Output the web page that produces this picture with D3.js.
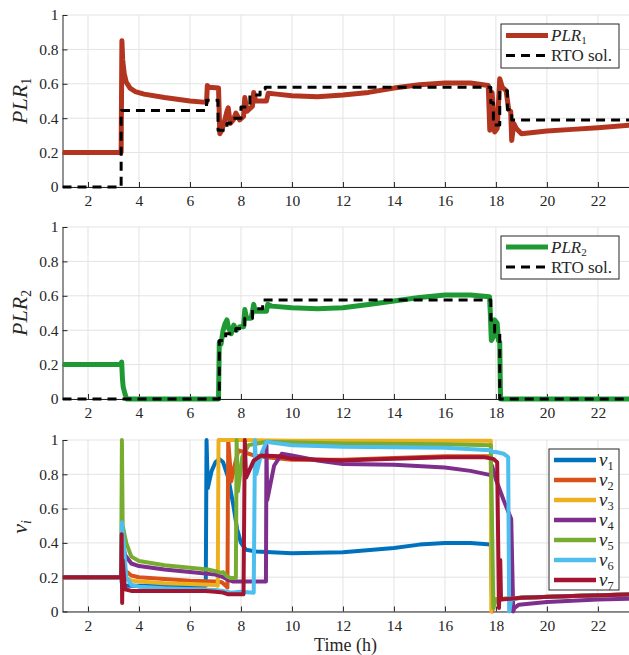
<!DOCTYPE html>
<html>
<head>
<meta charset="utf-8">
<script src="https://cdn.jsdelivr.net/npm/d3@7"></script>
<style>
  body { margin: 0; background: #fff; }
  svg text { font-family: "Liberation Serif", "DejaVu Serif", serif; fill: #262626; }
</style>
</head>
<body>
<div id="chart"></div>
<script>
const w = 629;
const h = 655;

// tick labels
const xTicks = [2, 4, 6, 8, 10, 12, 14, 16, 18, 20, 22];
const yTicks = [0, 0.2, 0.4, 0.6, 0.8, 1];

// panel 1: PLR1 and its RTO solution, [time (h), value]
const plr1 = [[1,0.2],[3.3,0.2],[3.33,0.85],[3.36,0.74],[3.42,0.66],[3.5,0.61],[3.65,0.575],[3.85,0.555],[4.2,0.54],[5,0.52],[6,0.5],[6.65,0.492],
  [6.68,0.59],[6.75,0.58],[7.12,0.575],[7.17,0.31],[7.25,0.33],[7.33,0.37],[7.45,0.44],[7.5,0.46],[7.58,0.37],[7.7,0.39],[7.8,0.43],[7.95,0.39],
  [8.1,0.41],[8.15,0.52],[8.24,0.44],[8.45,0.47],[8.5,0.55],[8.58,0.5],[9.0,0.5],[9.07,0.545],[9.4,0.54],[10,0.53],[11,0.525],[12,0.535],
  [13,0.55],[14,0.575],[15,0.595],[16,0.605],[17,0.605],[17.7,0.59],[17.76,0.33],[17.85,0.55],[17.95,0.32],[18.05,0.34],[18.15,0.63],
  [18.25,0.58],[18.4,0.56],[18.5,0.45],[18.58,0.44],[18.62,0.27],[18.7,0.37],[18.8,0.34],[19,0.31],[20,0.325],[21,0.335],[22,0.345],[23.3,0.36]];
const rto1 = [[1,0],[3.3,0],[3.3,0.445],[6.65,0.445],[6.65,0.505],[7.1,0.505],[7.1,0.33],[7.45,0.33],[7.45,0.37],[7.6,0.37],[7.6,0.4],
  [8.0,0.4],[8.0,0.465],[8.35,0.465],[8.35,0.535],[8.75,0.535],[8.75,0.57],[8.95,0.57],[8.95,0.58],[17.8,0.58],[17.8,0.49],[17.9,0.49],
  [17.9,0.36],[18.15,0.36],[18.15,0.56],[18.45,0.56],[18.45,0.45],[18.62,0.45],[18.62,0.39],[23.3,0.39]];

// panel 2: PLR2 and its RTO solution
const plr2 = [[1,0.2],[3.28,0.2],[3.32,0.215],[3.35,0.12],[3.38,0.07],[3.45,0.03],[3.52,0],[7.12,0],[7.15,0.33],[7.22,0.32],[7.3,0.4],
  [7.38,0.44],[7.45,0.46],[7.52,0.41],[7.62,0.38],[7.72,0.43],[7.82,0.4],[7.95,0.42],[8.1,0.42],[8.15,0.52],[8.22,0.47],[8.4,0.47],
  [8.5,0.55],[8.56,0.51],[9.0,0.51],[9.05,0.55],[9.2,0.54],[10,0.53],[11,0.525],[12,0.53],[13,0.55],[14,0.57],[15,0.59],[16,0.605],
  [17,0.605],[17.75,0.595],[17.78,0.5],[17.82,0.34],[17.9,0.36],[17.95,0.46],[18.05,0.44],[18.1,0.34],[18.15,0.33],[18.18,0],[23.3,0]];
const rto2 = [[1,0],[7.15,0],[7.15,0.34],[7.4,0.34],[7.4,0.38],[7.8,0.38],[7.8,0.41],[8.15,0.41],[8.15,0.47],[8.45,0.47],[8.45,0.525],
  [8.85,0.525],[8.85,0.575],[17.8,0.575],[17.8,0.46],[17.95,0.46],[17.95,0.39],[18.15,0.39],[18.15,0],[23.3,0]];

// panel 3: valve openings v1..v7
const v1 = [[1,0.2],[3.3,0.2],[3.34,0.15],[3.6,0.15],[5,0.15],[6.62,0.15],[6.65,1.0],[6.7,0.72],[6.85,0.82],[7.0,0.87],[7.15,0.89],
  [7.3,0.87],[7.5,0.78],[7.7,0.62],[7.85,0.48],[8.0,0.4],[8.2,0.36],[8.6,0.35],[10,0.34],[12,0.345],[14,0.37],[15,0.39],[16,0.4],
  [17,0.4],[17.8,0.39],[17.85,0.05],[18.0,0.07],[19,0.08],[21,0.09],[23.3,0.1]];
const v2 = [[1,0.2],[3.3,0.2],[3.34,0.32],[3.45,0.24],[3.7,0.21],[4,0.2],[5,0.19],[6,0.18],[7.0,0.175],[7.25,0.17],[7.4,0.15],
  [7.47,0.14],[7.5,1.0],[7.55,0.9],[7.62,0.76],[7.75,0.85],[7.9,0.94],[8.1,0.93],[8.5,0.91],[9,0.9],[10,0.885],[12,0.885],[14,0.895],
  [16,0.905],[17.8,0.905],[17.85,0.0],[17.95,0.07],[19,0.08],[21,0.09],[23.3,0.1]];
const v3 = [[1,0.2],[3.3,0.2],[3.34,0.35],[3.45,0.2],[3.7,0.18],[4,0.175],[5,0.165],[6,0.16],[7.0,0.155],[7.09,0.15],[7.12,1.0],
  [8,1.0],[10,0.995],[14,0.995],[17.8,0.995],[17.82,0.0],[17.9,0.07],[19,0.08],[21,0.09],[23.3,0.1]];
const v4 = [[1,0.2],[3.3,0.2],[3.34,0.42],[3.45,0.33],[3.7,0.28],[4,0.265],[5,0.245],[6,0.23],[7,0.215],[7.3,0.2],[7.5,0.185],
  [7.7,0.175],[8.2,0.175],[8.98,0.175],[9.0,0.97],[9.03,0.65],[9.3,0.85],[9.6,0.92],[10,0.91],[11,0.88],[12,0.86],[14,0.855],
  [16,0.84],[17,0.82],[17.8,0.795],[17.85,0.85],[18.0,0.77],[18.3,0.65],[18.6,0.54],[18.68,0.0],[18.72,0.02],[18.9,0.04],[20,0.055],
  [22,0.07],[23.3,0.075]];
const v5 = [[1,0.2],[3.3,0.2],[3.33,1.0],[3.36,0.5],[3.5,0.4],[3.7,0.32],[4,0.295],[5,0.27],[6,0.255],[6.7,0.245],[7.0,0.235],
  [7.2,0.225],[7.3,0.23],[7.45,0.205],[7.6,0.195],[7.8,0.195],[7.83,1.0],[7.88,0.7],[8.05,0.9],[8.3,0.97],[9,0.99],[12,0.98],
  [16,0.975],[17.8,0.97],[17.9,0.02],[18.0,0.07],[19,0.08],[21,0.09],[23.3,0.1]];
const v6 = [[1,0.2],[3.3,0.2],[3.33,0.52],[3.4,0.4],[3.5,0.2],[3.7,0.155],[4,0.145],[5,0.135],[6,0.13],[7,0.125],[7.3,0.12],
  [7.6,0.11],[8.0,0.115],[8.5,0.11],[8.55,1.0],[8.6,0.8],[8.8,0.92],[9.0,0.99],[9.2,0.985],[10,0.97],[12,0.96],[16,0.955],
  [17.8,0.94],[17.85,0.93],[18.0,0.93],[18.3,0.92],[18.48,0.9],[18.52,0.0],[18.6,0.07],[19,0.08],[21,0.09],[23.3,0.1]];
const v7 = [[1,0.2],[3.3,0.2],[3.32,0.45],[3.34,0.05],[3.36,0.3],[3.45,0.13],[3.7,0.12],[5,0.12],[6.6,0.12],[7.0,0.115],[7.3,0.11],
  [7.5,0.1],[8.1,0.1],[8.15,1.0],[8.2,0.78],[8.35,0.83],[8.5,0.88],[8.8,0.91],[9.5,0.905],[10,0.89],[12,0.88],[14,0.89],[16,0.9],
  [17.5,0.9],[17.9,0.89],[18.05,0.87],[18.12,0.02],[18.17,0.3],[18.2,0.07],[19,0.08],[21,0.09],[23.3,0.1]];

const vSeries = [v1, v2, v3, v4, v5, v6, v7];
const vColors = ["#0072BD", "#D95319", "#EDB120", "#7E2F8E", "#77AC30", "#4DBEEE", "#A2142F"];

const svg = d3.select("#chart")
    .append("svg")
    .attr("width", w)
    .attr("height", h)
    .attr("font-family", "Liberation Serif");

svg.append("defs").append("clipPath")
    .attr("id", "clipx")
    .append("rect")
    .attr("x", 62.5).attr("y", 0)
    .attr("width", w - 62.5).attr("height", h);

const x = d3.scaleLinear().domain([1, 23.22]).range([62.5, 629]);

function makePanel(top, bottom) {
    var y = d3.scaleLinear().domain([0, 1]).range([bottom, top]);
    var g = svg.append("g");

    // grid
    g.selectAll("line.gx").data(xTicks).enter().append("line")
        .attr("x1", d => x(d)).attr("x2", d => x(d))
        .attr("y1", top).attr("y2", bottom)
        .attr("stroke", "#e3e3e3").attr("stroke-width", 1);
    g.selectAll("line.gy").data(yTicks).enter().append("line")
        .attr("x1", x(1)).attr("x2", w)
        .attr("y1", d => y(d)).attr("y2", d => y(d))
        .attr("stroke", "#e3e3e3").attr("stroke-width", 1);

    var ax = g.append("g")
        .attr("transform", "translate(0," + bottom + ")")
        .call(d3.axisBottom(x).tickValues(xTicks).tickSizeInner(-5).tickSizeOuter(0).tickPadding(8));
    var ay = g.append("g")
        .attr("transform", "translate(" + x(1) + ",0)")
        .call(d3.axisLeft(y).tickValues(yTicks).tickSizeInner(-5).tickSizeOuter(0).tickPadding(4)
            .tickFormat(d => d3.format("")(+d.toFixed(1))));
    [ax, ay].forEach(a => {
        a.attr("font-family", "Liberation Serif");
        a.select(".domain").attr("stroke", "#262626").attr("stroke-width", 1);
        a.selectAll(".tick line").attr("stroke", "#262626");
        a.selectAll(".tick text")
            .style("font-family", "'Liberation Serif', serif")
            .style("font-size", "15.5px")
            .attr("fill", "#262626");
    });

    return { g: g, y: y };
}

function drawLine(panel, data, colour, width, dash) {
    var line = d3.line().x(d => x(d[0])).y(d => panel.y(d[1]));
    panel.g.append("path")
        .datum(data)
        .attr("clip-path", "url(#clipx)")
        .attr("fill", "none")
        .attr("stroke", colour)
        .attr("stroke-width", width)
        .attr("stroke-linejoin", "round")
        .attr("stroke-dasharray", dash || null)
        .attr("d", line);
}

function yLabel(cx, cy, main, sub, size) {
    var t = svg.append("text")
        .attr("transform", "translate(" + cx + "," + cy + ") rotate(-90)")
        .attr("text-anchor", "middle")
        .style("font-size", size + "px");
    t.append("tspan").style("font-style", "italic").text(main);
    t.append("tspan").attr("dy", "0.3em").style("font-size", (size * 0.62) + "px")
        .style("font-style", sub === "i" ? "italic" : "normal").text(sub);
}

function legend(x0, y0, bw, bh, entries, lineLen, fontSize, rowH, firstY) {
    var lg = svg.append("g");
    lg.append("rect")
        .attr("x", x0).attr("y", y0).attr("width", bw).attr("height", bh)
        .attr("fill", "#fff").attr("stroke", "#262626").attr("stroke-width", 1);
    entries.forEach((e, i) => {
        var yy = firstY + i * rowH;
        lg.append("line")
            .attr("x1", x0 + 5).attr("x2", x0 + 5 + lineLen)
            .attr("y1", yy).attr("y2", yy)
            .attr("stroke", e.colour).attr("stroke-width", e.width)
            .attr("stroke-dasharray", e.dash || null);
        var t = lg.append("text")
            .attr("x", x0 + 8 + lineLen).attr("y", yy)
            .attr("dy", "0.33em")
            .style("font-size", fontSize + "px");
        t.append("tspan").style("font-style", e.italic ? "italic" : "normal").text(e.main);
        if (e.sub) {
            t.append("tspan").attr("dy", "0.3em").style("font-size", (fontSize * 0.65) + "px")
                .text(e.sub);
        }
    });
}

// panel 1
var p1 = makePanel(15, 187);
drawLine(p1, plr1, "#B3351F", 5);
drawLine(p1, rto1, "#000", 3, "9,6");
yLabel(27, 101, "PLR", "1", 22);
legend(501, 24, 118, 44, [
    { colour: "#B3351F", width: 5, main: "PLR", sub: "1", italic: true },
    { colour: "#000", width: 3, dash: "9,6", main: "RTO sol." }
], 42, 17, 20, 35.5);

// panel 2
var p2 = makePanel(227, 399);
drawLine(p2, plr2, "#1F9934", 5);
drawLine(p2, rto2, "#000", 3, "9,6");
yLabel(27, 313, "PLR", "2", 22);
legend(501, 236, 118, 43, [
    { colour: "#1F9934", width: 5, main: "PLR", sub: "2", italic: true },
    { colour: "#000", width: 3, dash: "9,6", main: "RTO sol." }
], 42, 17, 20, 247);

// panel 3
var p3 = makePanel(440, 611.5);
vSeries.forEach((s, i) => drawLine(p3, s, vColors[i], 4));
yLabel(27, 527, "v", "i", 22);
legend(549, 449, 70, 141, vSeries.map((s, i) => ({
    colour: vColors[i], width: 4.5, main: "v", sub: String(i + 1), italic: true
})), 42, 19, 20, 460);

svg.append("text")
    .attr("x", 345.5).attr("y", 651)
    .attr("text-anchor", "middle")
    .style("font-size", "18px")
    .text("Time (h)");
</script>
</body>
</html>
